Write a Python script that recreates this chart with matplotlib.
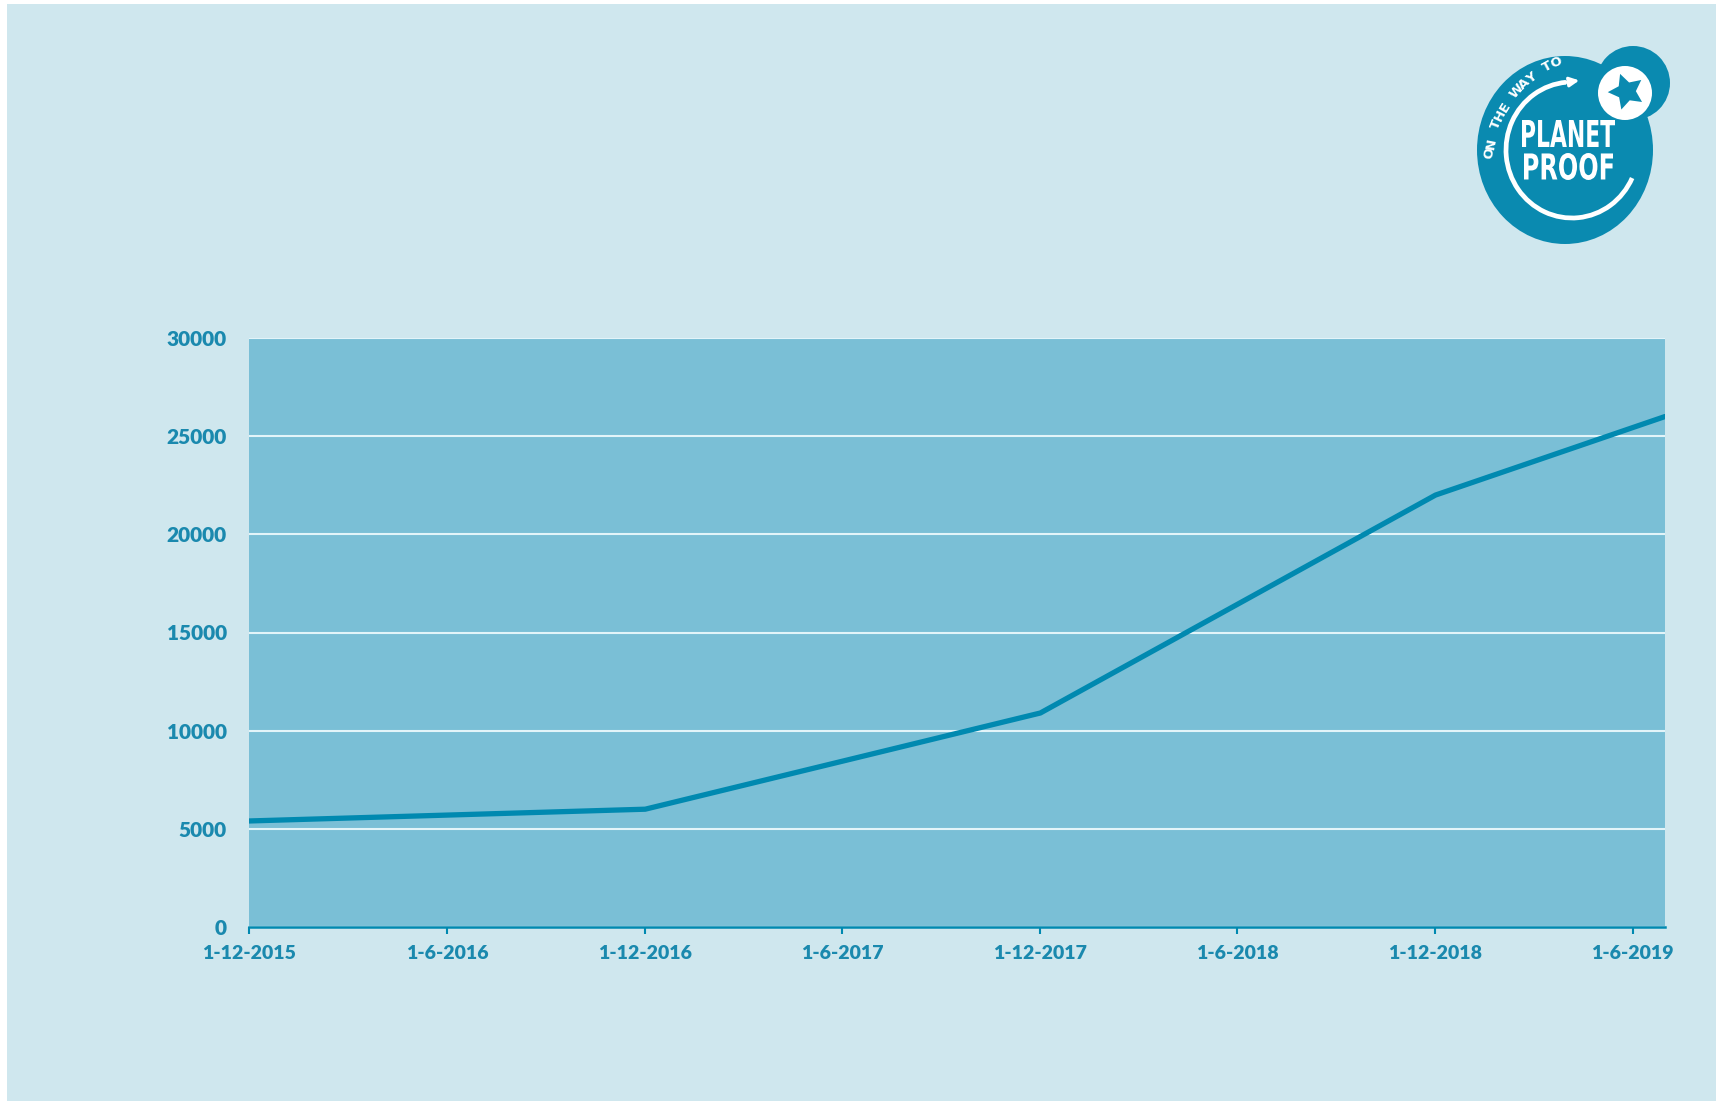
"""
Growth chart of On the way to PlanetProof certified volume,
redrawn with matplotlib.
"""

import numpy as np
import matplotlib
matplotlib.use("Agg")
import matplotlib.pyplot as plt
from matplotlib.patches import Rectangle, Ellipse, Circle, Arc, PathPatch
from matplotlib.textpath import TextPath
from matplotlib.font_manager import FontProperties
from matplotlib.transforms import Affine2D

# data
point_dates = np.array(['2015-12-01', '2016-12-01', '2017-12-01',
                        '2018-12-01', '2019-07-01'], dtype='datetime64[D]')
point_values = [5400, 6000, 10900, 22000, 26000]

tick_dates = np.array(['2015-12-01', '2016-06-01', '2016-12-01', '2017-06-01',
                       '2017-12-01', '2018-06-01', '2018-12-01', '2019-06-01'],
                      dtype='datetime64[D]')
tick_labels = ['1-12-2015', '1-6-2016', '1-12-2016', '1-6-2017',
               '1-12-2017', '1-6-2018', '1-12-2018', '1-6-2019']
y_ticks = [0, 5000, 10000, 15000, 20000, 25000, 30000]

BG = '#cfe7ee'
PLOT_BG = '#7abfd6'
LINE = '#0089b0'
TEXT = '#1a89ae'
LOGO = '#0a8ab0'

W, H = 1716, 1101


def fitted_text(ax, s, x0, y0, x1, y1, color='white'):
    """draw s squeezed into the pixel box (x0, y0)-(x1, y1), y pointing down"""
    tp = TextPath((0, 0), s, size=10,
                  prop=FontProperties(family='DejaVu Sans', weight='bold'))
    ext = tp.get_extents()
    sx = (x1 - x0) / ext.width
    sy = (y1 - y0) / ext.height
    tr = (Affine2D().translate(-ext.x0, -ext.y0).scale(sx, -sy)
          .translate(x0, y1))
    ax.add_patch(PathPatch(tr.transform_path(tp), color=color, lw=0))


fig = plt.figure(figsize=(W / 100, H / 100), dpi=100, facecolor='white')

# background layer in pixel coordinates (for the panel and the logo)
bg = fig.add_axes([0, 0, 1, 1], zorder=0)
bg.set_xlim(0, W)
bg.set_ylim(H, 0)
bg.axis('off')
bg.add_patch(Rectangle((7, 4), W - 7, H - 4, color=BG, lw=0))

# logo
bg.add_patch(Circle((1633, 83), 37, color=LOGO, lw=0))
bg.add_patch(Ellipse((1565, 150), 176, 188, color=LOGO, lw=0))
bg.add_patch(Circle((1625, 93), 27, color='white', lw=0))
bg.plot([1626], [91], marker=(5, 1, 20), ms=27, color=LOGO, mew=0)
# y axis points down here, so the angles are mirrored
bg.add_patch(Arc((1572, 150), 132, 136, theta1=25, theta2=265,
                 color='white', lw=3.4))
bg.annotate('', xy=(1582, 80), xytext=(1562, 83),
            arrowprops=dict(arrowstyle='-|>', color='white', lw=2.2,
                            mutation_scale=14))
fitted_text(bg, 'PLANET', 1522, 120, 1615, 147)
fitted_text(bg, 'PROOF', 1524, 153, 1613, 180)
arc_text = 'ON THE WAY TO'
cx, cy, r = 1600, 165, 111
angles = np.linspace(174, 113, len(arc_text))
for ch, a in zip(arc_text, angles):
    t = np.deg2rad(a)
    bg.text(cx + r * np.cos(t), cy - r * np.sin(t), ch, color='white',
            fontsize=9.5, fontweight='bold', family='DejaVu Sans',
            rotation=a - 90, ha='center', va='center',
            rotation_mode='anchor')

# main chart
ax = fig.add_axes([249 / W, 1 - 927 / H, (1665 - 249) / W, (927 - 338) / H],
                  zorder=1)
ax.set_facecolor(PLOT_BG)
ax.plot(point_dates, point_values, color=LINE, lw=3.8,
        solid_capstyle='round', solid_joinstyle='round', zorder=3)

ax.set_xlim(point_dates[0], point_dates[-1])
ax.set_ylim(0, 30000)
ax.set_yticks(y_ticks)
ax.set_yticklabels([str(v) for v in y_ticks])
ax.set_xticks(tick_dates)
ax.set_xticklabels(tick_labels)

ax.grid(axis='y', color='#e2f4f9', lw=1.5, zorder=1)
ax.grid(axis='x', visible=False)
for side in ['left', 'right', 'top']:
    ax.spines[side].set_visible(False)
ax.spines['bottom'].set_color(LINE)
ax.spines['bottom'].set_linewidth(1.8)

ax.tick_params(axis='y', length=0, pad=16, labelcolor=TEXT, labelsize=15)
ax.tick_params(axis='x', length=5, width=1.5, color=LINE, pad=8,
               labelcolor=TEXT, labelsize=14)
for lbl in ax.get_xticklabels() + ax.get_yticklabels():
    lbl.set_fontfamily(['Lato', 'DejaVu Sans'])
    lbl.set_fontweight('heavy')

fig.savefig('out.png', dpi=100, facecolor='white')
